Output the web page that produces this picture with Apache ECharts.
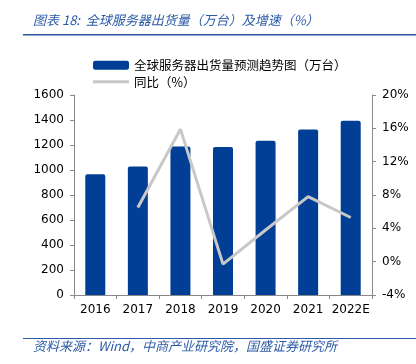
<!DOCTYPE html>
<html>
<head>
<meta charset="utf-8">
<script src="https://cdn.jsdelivr.net/npm/echarts@6/dist/echarts.min.js"></script>
<style>
  html, body { margin: 0; padding: 0; background: #fff; }
  #chart { width: 416px; height: 364px; }
</style>
</head>
<body>
<div id="chart"></div>
<script>
// data
var years = ['2016', '2017', '2018', '2019', '2020', '2021', '2022E'];
var shipments = [966, 1029, 1189, 1184, 1235, 1325, 1395];   // 万台
var growth = [null, 6.5, 15.9, -0.3, 3.8, 7.8, 5.3];          // %
var leftTicks = [0, 1600, 200];
var rightTicks = [-4, 20, 4];

var fontCn = '"Noto Sans CJK SC", "DejaVu Sans", sans-serif';
var blue = '#003f95';

var myChart = echarts.init(document.getElementById('chart'));

var option = {
    animation: false,
    textStyle: { fontFamily: 'Tahoma, "DejaVu Sans", ' + fontCn },
    graphic: [
        {
            type: 'text', left: 33, top: 14,
            style: {
                text: '图表 18:  全球服务器出货量（万台）及增速（%）',
                fill: '#2b5ba6', font: 'italic 13px ' + fontCn
            }
        },
        {
            type: 'rect', shape: { x: 23, y: 34, width: 393, height: 1.5 },
            style: { fill: '#2b5ba6' }
        },
        {
            type: 'rect', shape: { x: 23, y: 338, width: 393, height: 1 },
            style: { fill: '#2b5ba6' }
        },
        {
            type: 'text', left: 33, top: 340,
            style: {
                text: '资料来源：Wind，中商产业研究院，国盛证券研究所',
                fill: '#2b5ba6', font: 'italic 13px ' + fontCn
            }
        }
    ],
    legend: {
        orient: 'vertical',
        left: 88, top: 54,
        itemWidth: 36, itemHeight: 9, itemGap: 4,
        textStyle: { fontSize: 12.5, color: '#000', fontFamily: fontCn },
        data: [
            { name: '全球服务器出货量预测趋势图（万台）', icon: 'roundRect' },
            {
                name: '同比（%）',
                icon: 'path://M0,0 M36,9 M0,3 L36,3 L36,6 L0,6 Z',
                itemStyle: { color: '#c8c8c8' }
            }
        ]
    },
    grid: { left: 74, right: 44, top: 95, height: 200 },
    xAxis: {
        type: 'category',
        data: years,
        axisLine: { lineStyle: { color: '#888' } },
        axisTick: { show: true, length: 4, lineStyle: { color: '#888' } },
        axisLabel: { color: '#000', fontSize: 12, margin: 9, interval: 0 }
    },
    yAxis: [
        {
            type: 'value',
            min: leftTicks[0], max: leftTicks[1], interval: leftTicks[2],
            splitLine: { show: false },
            axisLine: { show: true, lineStyle: { color: '#888' } },
            axisTick: { show: true, length: 4, lineStyle: { color: '#888' } },
            axisLabel: { color: '#000', fontSize: 12, margin: 10, formatter: function (v) { return String(v); } }
        },
        {
            type: 'value',
            min: rightTicks[0], max: rightTicks[1], interval: rightTicks[2],
            splitLine: { show: false },
            axisLine: { show: true, lineStyle: { color: '#888' } },
            axisTick: { show: true, length: 4, lineStyle: { color: '#888' } },
            axisLabel: { color: '#000', fontSize: 12, margin: 10, formatter: '{value}%' }
        }
    ],
    series: [
        {
            name: '全球服务器出货量预测趋势图（万台）',
            type: 'bar',
            data: shipments,
            barWidth: 20,
            itemStyle: { color: blue, borderRadius: [2, 2, 0, 0] }
        },
        {
            name: '同比（%）',
            type: 'line',
            yAxisIndex: 1,
            data: growth,
            symbol: 'none',
            lineStyle: { color: '#c8c8c8', width: 3 },
            itemStyle: { color: '#c8c8c8' }
        }
    ]
};

myChart.setOption(option);
</script>
</body>
</html>
